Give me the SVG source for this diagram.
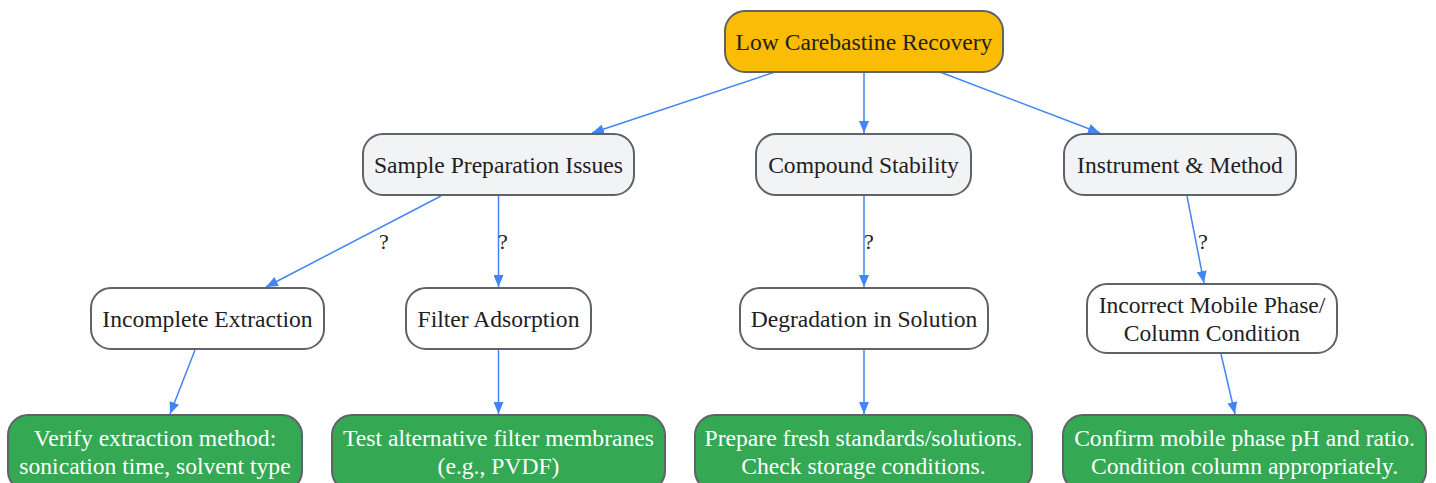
<svg xmlns="http://www.w3.org/2000/svg" width="1436" height="483" viewBox="0 0 1436 483">
<style>
.n rect{stroke:#5f6368;stroke-width:2}
.root rect{fill:#FBBC05}
.cat rect{fill:#F1F3F4}
.cause rect{fill:#FFFFFF}
.fix rect{fill:#34A853}
text{font-family:"Liberation Serif","Times New Roman",serif;font-size:23.6px;text-anchor:middle;dominant-baseline:central}
.n text{fill:#202124}
.fix text{fill:#FFFFFF}
.e line{stroke:#4285F4;stroke-width:1.5;fill:none;marker-end:url(#ah)}
.lbl{fill:#202124;font-size:22px}
</style>
<defs>
<marker id="ah" viewBox="0 0 12 10" refX="12" refY="5" markerWidth="12" markerHeight="10" markerUnits="userSpaceOnUse" orient="auto">
<path d="M0,0 L12,5 L0,10 z" fill="#4285F4"/>
</marker>
</defs>
<rect width="1436" height="483" fill="#FFFFFF"/>
<g id="edges" class="e">
<line x1="775" y1="72" x2="592" y2="133"/>
<line x1="864" y1="72" x2="864" y2="133"/>
<line x1="940" y1="72" x2="1100" y2="133"/>
<line x1="441" y1="196" x2="266" y2="287"/>
<line x1="498.5" y1="196" x2="498.5" y2="287"/>
<line x1="864" y1="196" x2="864" y2="287"/>
<line x1="1187" y1="196" x2="1204" y2="283"/>
<line x1="195" y1="350" x2="170" y2="414"/>
<line x1="498.5" y1="350" x2="498.5" y2="414"/>
<line x1="864" y1="350" x2="864" y2="414"/>
<line x1="1221" y1="354" x2="1235" y2="414"/>
<text class="lbl" x="384" y="241">?</text>
<text class="lbl" x="503" y="241">?</text>
<text class="lbl" x="869" y="241">?</text>
<text class="lbl" x="1203" y="241">?</text>
</g>
<g id="root" class="n root"><rect x="725" y="11" width="278" height="61" rx="20"/><text x="864" y="42">Low Carebastine Recovery</text></g>
<g id="spi" class="n cat"><rect x="363" y="134" width="271" height="61" rx="20"/><text x="498.5" y="165">Sample Preparation Issues</text></g>
<g id="cs" class="n cat"><rect x="756" y="134" width="215" height="61" rx="20"/><text x="863.5" y="165">Compound Stability</text></g>
<g id="im" class="n cat"><rect x="1064" y="134" width="232" height="61" rx="20"/><text x="1180" y="165">Instrument &amp; Method</text></g>
<g id="ie" class="n cause"><rect x="91" y="288" width="233" height="61" rx="20"/><text x="207.5" y="319">Incomplete Extraction</text></g>
<g id="fa" class="n cause"><rect x="406" y="288" width="185" height="61" rx="20"/><text x="498.5" y="319">Filter Adsorption</text></g>
<g id="ds" class="n cause"><rect x="740" y="288" width="248" height="61" rx="20"/><text x="864" y="319">Degradation in Solution</text></g>
<g id="imp" class="n cause"><rect x="1087" y="284" width="250" height="69" rx="20"/><text x="1212" y="305">Incorrect Mobile Phase/</text><text x="1212" y="333">Column Condition</text></g>
<g id="f1" class="n fix"><rect x="8" y="415" width="294" height="76" rx="20"/><text x="155" y="438">Verify extraction method:</text><text x="155" y="466">sonication time, solvent type</text></g>
<g id="f2" class="n fix"><rect x="332" y="415" width="333" height="76" rx="20"/><text x="498.5" y="438">Test alternative filter membranes</text><text x="498.5" y="466">(e.g., PVDF)</text></g>
<g id="f3" class="n fix"><rect x="695" y="415" width="337" height="76" rx="20"/><text x="863.5" y="438">Prepare fresh standards/solutions.</text><text x="863.5" y="466">Check storage conditions.</text></g>
<g id="f4" class="n fix"><rect x="1063" y="415" width="363" height="76" rx="20"/><text x="1244.5" y="438">Confirm mobile phase pH and ratio.</text><text x="1244.5" y="466">Condition column appropriately.</text></g>
</svg>
